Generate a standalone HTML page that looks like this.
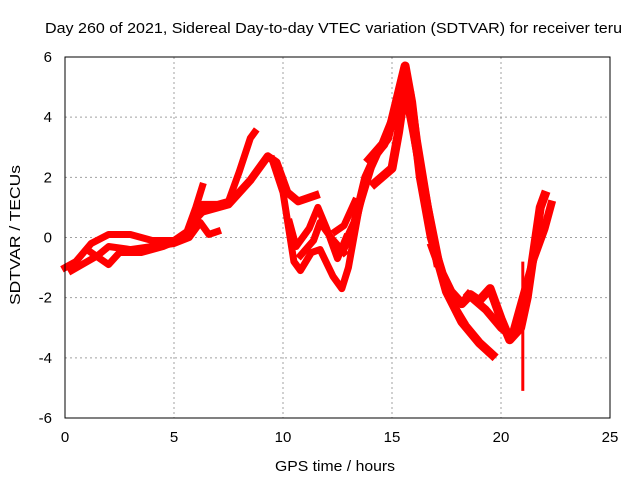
<!DOCTYPE html>
<html><head><meta charset="utf-8"><style>
body{margin:0;background:#fff;}
svg text{font-family:"Liberation Sans",sans-serif;font-size:15px;fill:#000;}
</style></head><body>
<svg id="chart" width="640" height="480" viewBox="0 0 640 480" xmlns="http://www.w3.org/2000/svg">
<rect width="640" height="480" fill="#fff"/>
<text x="45" y="33" textLength="577" lengthAdjust="spacingAndGlyphs">Day 260 of 2021, Sidereal Day-to-day VTEC variation (SDTVAR) for receiver teru</text>
<text x="275" y="471" textLength="120" lengthAdjust="spacingAndGlyphs">GPS time / hours</text>
<text transform="translate(20,305) rotate(-90)" textLength="140" lengthAdjust="spacingAndGlyphs">SDTVAR / TECUs</text>
<g id="grid"></g>
<g id="series"></g>
<rect x="65" y="57" width="545" height="361" fill="none" stroke="#000" stroke-width="1"/>
<g id="ticks"></g>
</svg>
<script>
const xTicks=[0,5,10,15,20,25];
const yTicks=[-6,-4,-2,0,2,4,6];
const track1=[[0,-1],[0.5,-0.8],[1.2,-0.2],[2,0.1],[3,0.1],[4,-0.1],[5,-0.1],[5.6,0.2],[6.0,1.0],[6.3,1.7]];
const track2=[[0.3,-1.1],[1.5,-0.6],[2,-0.3],[3,-0.4],[4,-0.3],[5,-0.2],[5.7,0],[6.2,0.5],[6.6,0.1],[7.0,0.2]];
const track3=[[1.2,-0.5],[2.0,-0.9],[2.5,-0.5],[3.5,-0.5],[4.5,-0.3],[5.5,0],[6.0,0.6],[6.5,1.0]];
const track4=[[5.8,0.5],[6.3,1.1],[7,1.1],[7.5,1.2],[8,2.2],[8.5,3.3],[8.7,3.5]];
const track5=[[6.5,0.9],[7.5,1.1],[8.5,1.9],[9.3,2.7],[9.7,2.5],[10.2,1.5],[10.7,1.2],[11.5,1.4]];
const track6=[[9.5,2.6],[10,1.5],[10.5,-0.8],[10.8,-1.1],[11.3,-0.5],[11.7,-0.4],[12.3,-1.3],[12.7,-1.7],[13,-1.0],[13.5,1.0],[14,2.2]];
const track7=[[10.3,0.5],[10.6,-0.3],[11.2,0.3],[11.6,1.0],[12,0.3],[12.5,-0.7],[12.9,0]];
const track8=[[10.8,-0.6],[11.4,-0.1],[11.7,0.5],[12.2,0.0],[12.8,-0.5]];
const track9=[[12.4,0.2],[12.8,0.4],[13.3,1.2]];
const track10=[[12.8,-0.3],[13.3,0.5],[13.8,2.0],[14.3,2.8],[14.8,3.3],[15.3,4.8],[15.6,5.7],[15.9,4.5],[16.3,2.0],[16.8,0],[17.3,-1.2],[17.7,-1.8],[18.2,-2.2],[18.6,-1.9],[19,-2.1],[19.5,-1.7],[20,-2.7],[20.4,-3.4],[20.9,-3.0],[21.2,-2.0],[21.5,-0.5],[21.8,1.0],[22,1.4]];
const track11=[[14.2,1.8],[15,2.3],[15.3,3.5],[15.6,5.0],[16.0,3.5],[16.5,1.5],[17,-0.5],[17.5,-1.8],[18.2,-2.8],[19,-3.5],[19.6,-3.9]];
const track12=[[16.8,-0.3],[17.3,-1.3],[17.8,-2.2],[18.3,-2.8]];
const track13=[[18.5,-1.9],[19.3,-2.4],[20.0,-3.0],[20.5,-3.3],[21,-2],[21.5,-0.7],[22,0.3],[22.3,1.1]];
const track14=[[14.0,2.6],[14.6,3.1],[15.1,4.0],[15.5,5.3],[15.8,4.8],[16.1,3.2],[16.6,1.0],[17.1,-0.8]];
const spike=[[21.0,-0.8],[21.0,-5.1]];
const tracks=[track1,track2,track3,track4,track5,track6,track7,track8,track9,track10,track11,track12,track13,track14];
const widths=[7,7,7,7,8,7,7,7,7,9,9,7,8,10];
const NS="http://www.w3.org/2000/svg";
const X=v=>65+v*21.8, Y=v=>237.5-v*30.08;
const grid=document.getElementById('grid'),ticks=document.getElementById('ticks'),ser=document.getElementById('series');
function mk(t,a,p){const e=document.createElementNS(NS,t);for(const k in a)e.setAttribute(k,a[k]);p.appendChild(e);return e;}
xTicks.forEach(v=>{
 if(v>0&&v<25){const g=mk('line',{x1:X(v),x2:X(v),y1:57,y2:418,stroke:'#a0a0a0','stroke-dasharray':'2,3'},grid);
 
 }
 const t=mk('text',{x:X(v),y:442,'text-anchor':'middle'},ticks);t.textContent=v;
 
 
});
yTicks.forEach(v=>{
 if(v>-6&&v<6){const g=mk('line',{x1:65,x2:610,y1:Y(v),y2:Y(v),stroke:'#a0a0a0','stroke-dasharray':'2,3'},grid);
 
 }
 const t=mk('text',{x:52,y:Y(v)+5,'text-anchor':'end'},ticks);t.textContent=v;
 
 
});
tracks.forEach((tr,i)=>{
 const p=mk('polyline',{points:tr.map(d=>X(d[0])+','+Y(d[1])).join(' '),fill:'none',stroke:'#ff0000','stroke-width':widths[i],'stroke-linejoin':'round','stroke-linecap':'square'},ser);
 
 
});
const sp=mk('polyline',{points:spike.map(d=>X(d[0])+','+Y(d[1])).join(' '),fill:'none',stroke:'#ff0000','stroke-width':3},ser);


</script>
</body></html>
